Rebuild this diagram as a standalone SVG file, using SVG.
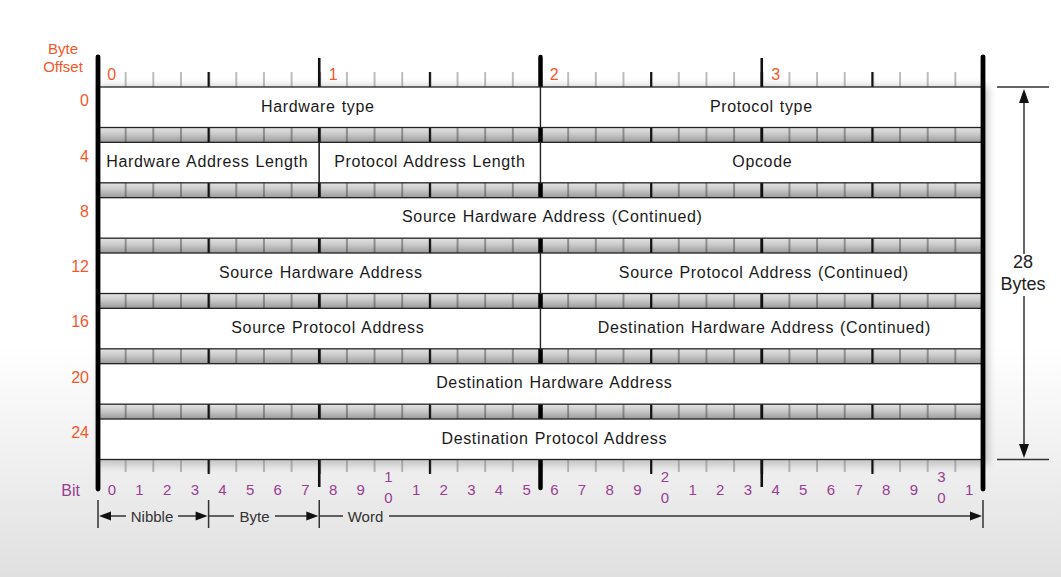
<svg xmlns="http://www.w3.org/2000/svg" xmlns:xlink="http://www.w3.org/1999/xlink" width="1061" height="577" viewBox="0 0 1061 577">
<defs>
<style>
.lbl{font-family:"Liberation Sans",Arial,sans-serif;font-size:16px;letter-spacing:0.65px;word-spacing:1px;fill:#1a1a1a;text-anchor:middle}
.org{font-family:"Liberation Sans",Arial,sans-serif;fill:#f4582a}
.off{font-size:16px;text-anchor:end}
.byt{font-size:16px;text-anchor:middle}
.bit{font-family:"Liberation Sans",Arial,sans-serif;font-size:15px;fill:#993d94;text-anchor:middle}
.dim{font-family:"Liberation Sans",Arial,sans-serif;font-size:15px;fill:#333;text-anchor:middle}
.big{font-family:"Liberation Sans",Arial,sans-serif;font-size:18px;fill:#222;text-anchor:middle}
.field{fill:#fff;stroke:#222;stroke-width:1.3}
.dl{stroke:#333;stroke-width:1.5;fill:none}
.ah{fill:#111}
</style>
<linearGradient id="bg" x1="0" y1="0" x2="0" y2="1">
<stop offset="0" stop-color="#ffffff"/>
<stop offset="0.6" stop-color="#ffffff"/>
<stop offset="1" stop-color="#e0e0e0"/>
</linearGradient>
<linearGradient id="stripG" x1="0" y1="0" x2="0" y2="1">
<stop offset="0" stop-color="#e4e4e4"/>
<stop offset="0.45" stop-color="#c9c9c9"/>
<stop offset="1" stop-color="#9a9a9a"/>
</linearGradient>
<linearGradient id="rulerG" x1="0" y1="0" x2="0" y2="1">
<stop offset="0" stop-color="#c4c4c4"/>
<stop offset="1" stop-color="#eeeeee" stop-opacity="0"/>
</linearGradient>
<pattern id="pMinorDark" x="97" y="0" width="27.65625" height="577" patternUnits="userSpaceOnUse">
<rect x="0.5" y="0" width="1" height="577" fill="#4a4a4a"/>
</pattern>
<pattern id="pMinorRuler" x="97" y="0" width="27.65625" height="577" patternUnits="userSpaceOnUse">
<rect x="0.5" y="0" width="1" height="577" fill="#7a7a7a"/>
</pattern>
<pattern id="pNibble" x="96" y="0" width="110.625" height="577" patternUnits="userSpaceOnUse">
<rect x="1" y="0" width="2.2" height="577" fill="#111"/>
</pattern>
<filter id="shadow" x="-10%" y="-10%" width="120%" height="120%">
<feGaussianBlur stdDeviation="4"/>
</filter>
<g id="strip">
<rect x="98" y="0" width="885" height="14.83" fill="url(#stripG)"/>
<rect x="98" y="0" width="885" height="14.83" fill="url(#pMinorDark)"/>
<rect x="98" y="0" width="885" height="14.83" fill="url(#pNibble)"/>
</g>
</defs>

<rect id="background" x="0" y="0" width="1061" height="577" fill="url(#bg)"/>
<rect x="100" y="86" width="888" height="378" fill="#000" opacity="0.22" filter="url(#shadow)"/>

<g id="labels">
<text class="org" x="63" y="53.5" font-size="15" text-anchor="middle">Byte</text>
<text class="org" x="63" y="71.5" font-size="15" text-anchor="middle">Offset</text>
<text x="80" y="496" font-family="Liberation Sans, Arial, sans-serif" font-size="16" fill="#993d94" text-anchor="end">Bit</text>
<text class="org off" x="89" y="106.3">0</text>
<text class="org off" x="89" y="161.6">4</text>
<text class="org off" x="89" y="216.8">8</text>
<text class="org off" x="89" y="272.3">12</text>
<text class="org off" x="89" y="327.3">16</text>
<text class="org off" x="89" y="382.8">20</text>
<text class="org off" x="89" y="438.3">24</text>
<text class="org byt" x="111.8" y="79.5">0</text>
<text class="org byt" x="333.1" y="79.5">1</text>
<text class="org byt" x="554.3" y="79.5">2</text>
<text class="org byt" x="775.6" y="79.5">3</text>
</g>

<g id="ruler-top">
<rect x="98" y="72" width="885" height="15" fill="url(#pMinorRuler)"/>
<rect x="98" y="72" width="885" height="15" fill="url(#pNibble)"/>
</g>

<g id="ruler-bottom">
<rect x="98" y="459.5" width="885" height="14" fill="url(#rulerG)"/>
<rect x="98" y="459.5" width="885" height="12.5" fill="url(#pMinorRuler)"/>
<rect x="98" y="459.5" width="885" height="14.5" fill="url(#pNibble)"/>
</g>

<g id="strips">
<use xlink:href="#strip" href="#strip" y="127.5"/>
<use xlink:href="#strip" href="#strip" y="182.83"/>
<use xlink:href="#strip" href="#strip" y="238.17"/>
<use xlink:href="#strip" href="#strip" y="293.5"/>
<use xlink:href="#strip" href="#strip" y="348.83"/>
<use xlink:href="#strip" href="#strip" y="404.17"/>
</g>

<g id="major-ticks">
<line x1="319.25" y1="58" x2="319.25" y2="487" stroke="#111" stroke-width="2.6"/>
<line x1="761.75" y1="58" x2="761.75" y2="487" stroke="#111" stroke-width="2.6"/>
<line x1="540.5" y1="57" x2="540.5" y2="488" stroke="#000" stroke-width="4.5" stroke-linecap="round"/>
</g>

<g id="field-hardware-type"><rect class="field" x="98" y="87" width="442.5" height="40.5"/><text class="lbl" x="317.8" y="111.5">Hardware type</text></g>
<g id="field-protocol-type"><rect class="field" x="540.5" y="87" width="442.5" height="40.5"/><text class="lbl" x="761.3" y="111.5">Protocol type</text></g>

<g id="field-hardware-address-length"><rect class="field" x="98" y="142.33" width="221.25" height="40.5"/><text class="lbl" x="207.3" y="166.8">Hardware Address Length</text></g>
<g id="field-protocol-address-length"><rect class="field" x="319.25" y="142.33" width="221.25" height="40.5"/><text class="lbl" x="429.8" y="166.8">Protocol Address Length</text></g>
<g id="field-opcode"><rect class="field" x="540.5" y="142.33" width="442.5" height="40.5"/><text class="lbl" x="762.3" y="166.8">Opcode</text></g>

<g id="field-source-hardware-address-continued"><rect class="field" x="98" y="197.67" width="885" height="40.5"/><text class="lbl" x="552.3" y="222.2">Source Hardware Address (Continued)</text></g>

<g id="field-source-hardware-address"><rect class="field" x="98" y="253" width="442.5" height="40.5"/><text class="lbl" x="320.8" y="277.5">Source Hardware Address</text></g>
<g id="field-source-protocol-address-continued"><rect class="field" x="540.5" y="253" width="442.5" height="40.5"/><text class="lbl" x="763.8" y="277.5">Source Protocol Address (Continued)</text></g>

<g id="field-source-protocol-address"><rect class="field" x="98" y="308.33" width="442.5" height="40.5"/><text class="lbl" x="327.8" y="332.8">Source Protocol Address</text></g>
<g id="field-destination-hardware-address-continued"><rect class="field" x="540.5" y="308.33" width="442.5" height="40.5"/><text class="lbl" x="764.3" y="332.8">Destination Hardware Address (Continued)</text></g>

<g id="field-destination-hardware-address"><rect class="field" x="98" y="363.67" width="885" height="40.5"/><text class="lbl" x="554.3" y="388.2">Destination Hardware Address</text></g>

<g id="field-destination-protocol-address"><rect class="field" x="98" y="419" width="885" height="40.5"/><text class="lbl" x="554.3" y="443.5">Destination Protocol Address</text></g>

<g id="borders">
<line x1="98" y1="57" x2="98" y2="489" stroke="#000" stroke-width="4.8" stroke-linecap="round"/>
<line x1="983" y1="57" x2="983" y2="489" stroke="#000" stroke-width="4.8" stroke-linecap="round"/>
</g>

<g id="bit-labels">
<text class="bit" x="111.83" y="495">0</text>
<text class="bit" x="139.49" y="495">1</text>
<text class="bit" x="167.14" y="495">2</text>
<text class="bit" x="194.80" y="495">3</text>
<text class="bit" x="222.45" y="495">4</text>
<text class="bit" x="250.11" y="495">5</text>
<text class="bit" x="277.77" y="495">6</text>
<text class="bit" x="305.42" y="495">7</text>
<text class="bit" x="333.08" y="495">8</text>
<text class="bit" x="360.74" y="495">9</text>
<text class="bit" x="388.39" y="482">1</text>
<text class="bit" x="388.39" y="503">0</text>
<text class="bit" x="416.05" y="495">1</text>
<text class="bit" x="443.70" y="495">2</text>
<text class="bit" x="471.36" y="495">3</text>
<text class="bit" x="499.02" y="495">4</text>
<text class="bit" x="526.67" y="495">5</text>
<text class="bit" x="554.33" y="495">6</text>
<text class="bit" x="581.99" y="495">7</text>
<text class="bit" x="609.64" y="495">8</text>
<text class="bit" x="637.30" y="495">9</text>
<text class="bit" x="664.95" y="482">2</text>
<text class="bit" x="664.95" y="503">0</text>
<text class="bit" x="692.61" y="495">1</text>
<text class="bit" x="720.27" y="495">2</text>
<text class="bit" x="747.92" y="495">3</text>
<text class="bit" x="775.58" y="495">4</text>
<text class="bit" x="803.24" y="495">5</text>
<text class="bit" x="830.89" y="495">6</text>
<text class="bit" x="858.55" y="495">7</text>
<text class="bit" x="886.20" y="495">8</text>
<text class="bit" x="913.86" y="495">9</text>
<text class="bit" x="941.52" y="482">3</text>
<text class="bit" x="941.52" y="503">0</text>
<text class="bit" x="969.17" y="495">1</text>
</g>

<g id="connectors">
<path class="dl" d="M98,500V528M208.6,500V528M319.25,500V528M983,500V528"/>
<path class="dl" d="M110,516H126M178,516H197M209,516H234M275,516H307M320,516H343M389,516H971"/>
<polygon class="ah" points="99,516 111,511.5 111,520.5"/>
<polygon class="ah" points="207.6,516 195.6,511.5 195.6,520.5"/>
<polygon class="ah" points="318.3,516 306.3,511.5 306.3,520.5"/>
<polygon class="ah" points="982,516 970,511.5 970,520.5"/>
<text class="dim" x="152" y="521.5">Nibble</text>
<text class="dim" x="254.5" y="521.5">Byte</text>
<text class="dim" x="365.5" y="521.5">Word</text>
<path class="dl" d="M997,87H1049M997,459.5H1049M1024,100V254M1024,296V447"/>
<polygon class="ah" points="1024,89 1019,103 1029,103"/>
<polygon class="ah" points="1024,458 1019,444 1029,444"/>
<text class="big" x="1023" y="268">28</text>
<text class="big" x="1023" y="289.5">Bytes</text>
</g>
</svg>
